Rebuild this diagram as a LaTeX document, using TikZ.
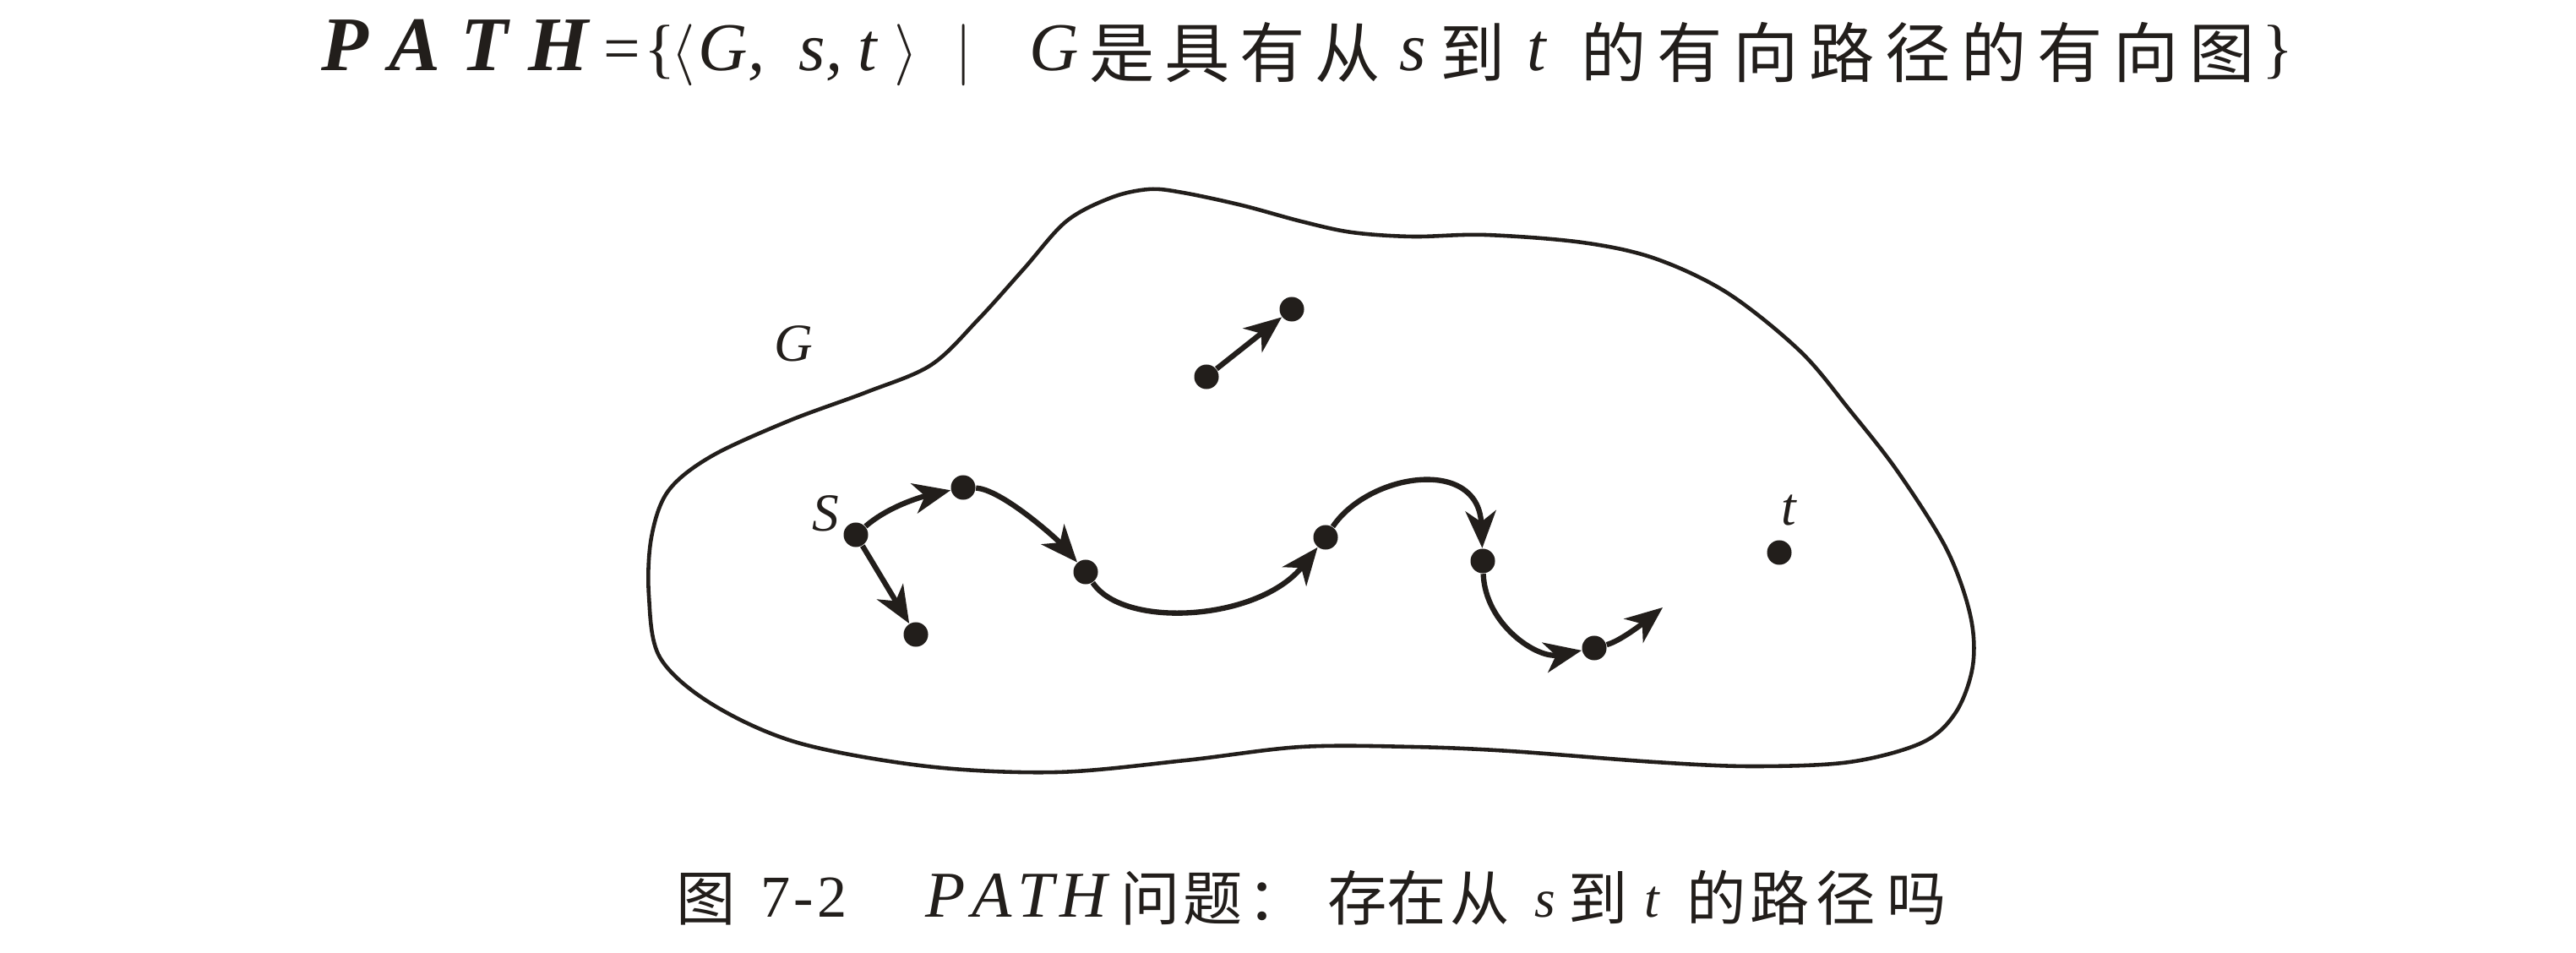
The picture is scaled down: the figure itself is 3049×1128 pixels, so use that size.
\documentclass[tikz,border=0pt]{standalone}
\usepackage{fontspec}
\setmainfont{Liberation Serif}
\newfontfamily\cjk{Noto Sans CJK SC}
\usetikzlibrary{arrows.meta}
\definecolor{ink}{RGB}{34,30,27}
\newcommand\bx[2]{\makebox[#1cm][l]{#2}}
\newcommand\tcj[1]{\raisebox{-0.08cm}{\cjk #1}}
\newcommand\ccj[1]{\raisebox{-0.04cm}{\cjk #1}}
\newcommand\lt[1]{{\fontsize{23}{26}\selectfont\itshape #1}}
\newcommand\lc[1]{{\fontsize{18}{20}\selectfont\itshape #1}}
\begin{document}
\begin{tikzpicture}[x=0.01cm,y=-0.01cm,
  dot/.style={circle,fill=ink,inner sep=0pt,minimum size=0.29cm},
  edge/.style={draw=ink,line width=1.8pt,-{Stealth[length=0.44cm,width=0.36cm,inset=0.13cm]}},
  outline/.style={draw=ink,line width=1.3pt},
  lbl/.style={text=ink,font=\fontsize{18}{21}\selectfont\itshape,inner sep=0pt},
  txt/.style={text=ink,inner sep=0pt}]
\useasboundingbox (0,0) rectangle (3049,1128);
\fill[white] (0,0) rectangle (3049,1128);

% title
\node[txt, anchor=base west] (title) at (380,84) {%
\bx{3.34}{\fontsize{26}{30}\selectfont\bfseries\itshape P\kern0.24cm A\kern0.24cm T\kern0.24cm H}%
\fontsize{22}{26}\selectfont
\bx{0.48}{=}\bx{0.32}{\{}\bx{0.32}{$\langle$}%
\bx{1.19}{\lt{G,}}\bx{0.70}{\lt{s,}}\bx{0.42}{\lt{t}}%
\bx{0.72}{$\rangle$}\bx{0.88}{$\vert$}%
\bx{0.71}{\lt{G}}%
\bx{0.89}{\tcj{是}}\bx{0.89}{\tcj{具}}\bx{0.89}{\tcj{有}}\bx{1.00}{\tcj{从}}%
\bx{0.48}{\lt{s}}%
\bx{1.03}{\tcj{到}}%
\bx{0.64}{\lt{t}}%
\bx{0.90}{\tcj{的}}\bx{0.90}{\tcj{有}}\bx{0.90}{\tcj{向}}\bx{0.90}{\tcj{路}}%
\bx{0.90}{\tcj{径}}\bx{0.90}{\tcj{的}}\bx{0.90}{\tcj{有}}\bx{0.90}{\tcj{向}}%
\bx{0.85}{\tcj{图}}\}};

% caption
\node[txt, anchor=base west] (cap) at (800,1085) {%
\fontsize{20}{24}\selectfont
\bx{1.00}{\ccj{图}}%
\bx{1.95}{7\kern0.04cm-\kern0.04cm2}%
\bx{2.30}{\fontsize{22}{24}\selectfont\itshape P\kern0.07cm A\kern0.07cm T\kern0.07cm H}%
\bx{0.75}{\ccj{问}}\bx{0.75}{\ccj{题}}\bx{0.95}{\ccj{：}}%
\bx{0.70}{\ccj{存}}\bx{0.75}{\ccj{在}}\bx{1.00}{\ccj{从}}%
\bx{0.40}{\lc{s}}%
\bx{0.90}{\ccj{到}}%
\bx{0.50}{\lc{t}}%
\bx{0.75}{\ccj{的}}\bx{0.78}{\ccj{路}}\bx{0.84}{\ccj{径}}\ccj{吗}};

% outline of G
\draw[outline] plot[smooth cycle, tension=0.55] coordinates {
 (768,705) (771,636) (791,581) (842,540) (934,498) (1026,464) (1102,432)
 (1158,378) (1212,318) (1262,262) (1315,234) (1360,224) (1400,228)
 (1470,243) (1540,262) (1600,275) (1672,280) (1758,278) (1873,287)
 (1959,306) (2045,347) (2131,416) (2189,485) (2246,558) (2304,650)
 (2332,728) (2335,788) (2315,843) (2275,879) (2189,902) (2074,907)
 (1959,902) (1787,889) (1672,884) (1540,884) (1403,900) (1250,914)
 (1097,907) (944,879) (842,833) (781,778)};

% labels
\node[lbl] (Glbl) at (939,407) {G};
\node[lbl] (Slbl) at (977,608) {S};
\node[lbl] (tlbl) at (2117,604) {t};

% vertices
\node[dot] (s)  at (1013,633) {};
\node[dot] (n1) at (1140,577) {};
\node[dot] (n2) at (1285,677) {};
\node[dot] (n3) at (1569,636) {};
\node[dot] (n4) at (1755,664) {};
\node[dot] (n5) at (1887,767) {};
\node[dot] (sd) at (1084,751) {};
\node[dot] (ia) at (1428,446) {};
\node[dot] (ib) at (1529,366) {};
\node[dot] (t)  at (2106,654) {};
\coordinate (e) at (1968,719);

% edges
\draw[edge] (s) .. controls +(40,-35) and +(-45,10) .. (n1);
\draw[edge] (n1) .. controls +(45,2) and +(-35,-40) .. (n2);
\draw[edge] (n2) .. controls (1330,745) and (1490,735) .. (n3);
\draw[edge] (n3) .. controls (1620,560) and (1750,540) .. (n4);
\draw[edge] (n4) .. controls (1758,740) and (1820,780) .. (n5);
\draw[edge] (n5) .. controls +(30,-8) and +(-25,20) .. (e);
\draw[edge] (s) -- (sd);
\draw[edge] (ia) -- (ib);
\end{tikzpicture}
\end{document}
